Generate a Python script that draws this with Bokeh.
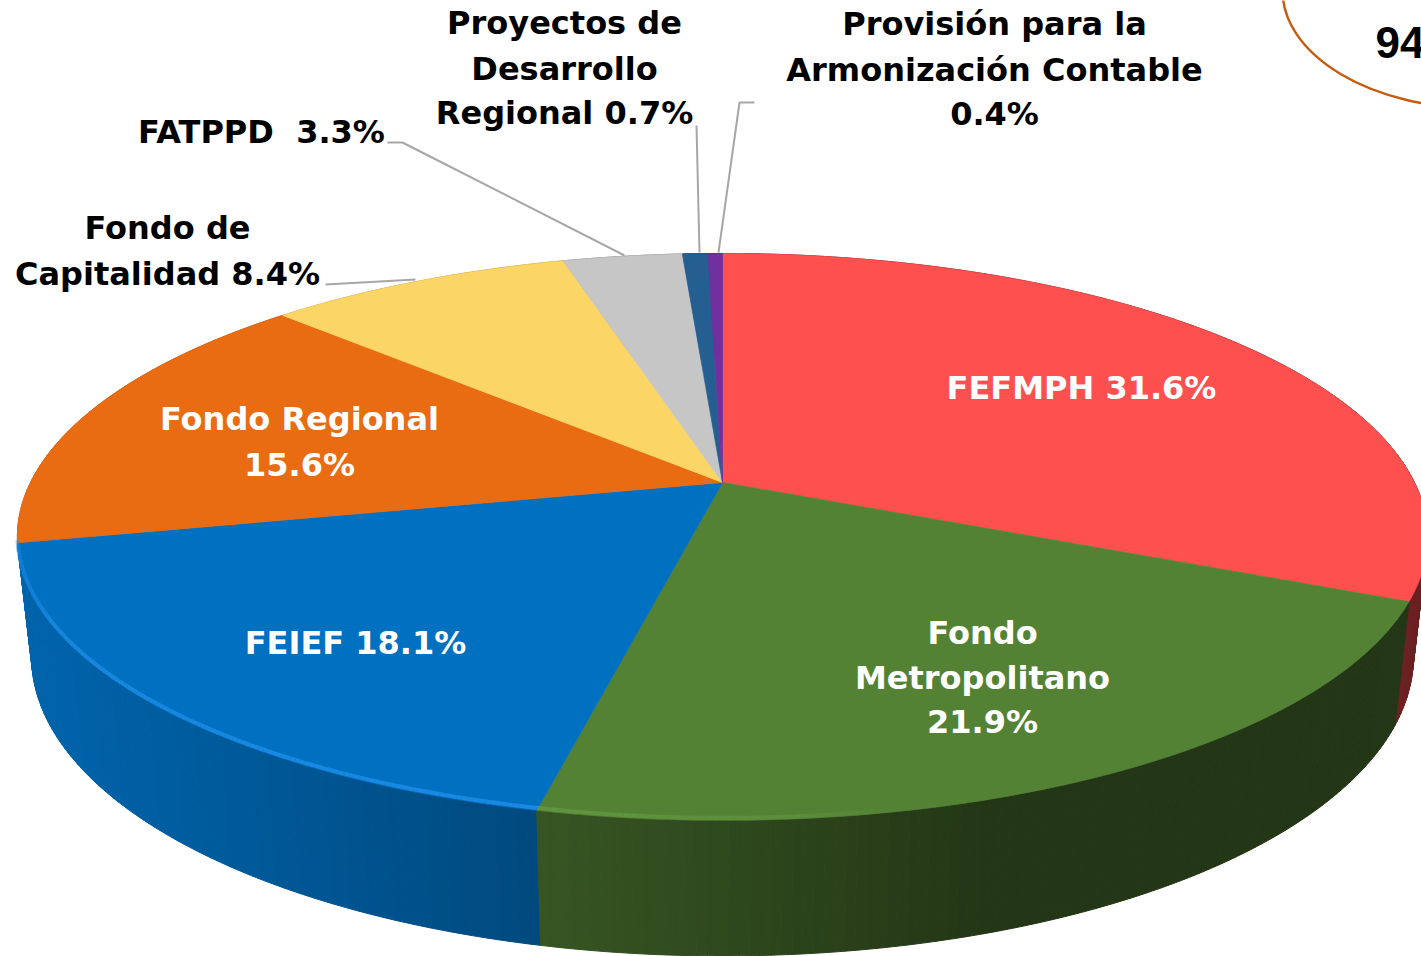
import numpy as np
from bokeh.plotting import figure
from bokeh.models import Range1d
from bokeh.core.properties import value
from bokeh.embed import file_html
from bokeh.resources import INLINE

# ---- data (clockwise from 12 o'clock)
names = ["FEFMPH", "Fondo Metropolitano", "FEIEF", "Fondo Regional",
         "Fondo de Capitalidad", "FATPPD", "Proyectos de Desarrollo Regional",
         "Provisión para la Armonización Contable"]
shares = [31.6, 21.9, 18.1, 15.6, 8.4, 3.3, 0.7, 0.4]
colors = ["#FF5050", "#548235", "#0070C0", "#E96B12", "#FBD666", "#C6C6C6", "#255E91", "#7030A0"]
rim_colors = [None, "#659A42", "#1E8FEA", None, None, None, None, None]
callout_number = "94"

# ---- perspective of the disc
CX, CY, RX, RY, K = 722.0, 482.0, 692.0, 273.0, 0.192
LOW_CY, LOW_RX, LOW_RY = 599.0, 678.0, 288.0


def top(a):
    u, v = np.sin(a), np.cos(a)
    d = 1 + K * v
    return CX + RX * u / d, CY - RY * v / d


def low(a):
    u, v = np.sin(a), np.cos(a)
    d = 1 + K * v
    return CX + LOW_RX * u / d, LOW_CY - LOW_RY * v / d


def hex2rgb(h):
    return np.array([int(h[i:i + 2], 16) for i in (1, 3, 5)], dtype=float)


def shade(h, f):
    c = np.clip(hex2rgb(h) * f, 0, 255).astype(int)
    return "#%02x%02x%02x" % tuple(c)


p = figure(width=1421, height=956, output_backend="svg", toolbar_location=None,
           x_range=Range1d(0, 1421), y_range=Range1d(956, 0),
           min_border=0, outline_line_color=None)
p.axis.visible = False
p.grid.visible = False
p.background_fill_color = "white"

edges = np.cumsum([0.0] + shares) / sum(shares) * 2 * np.pi

# side wall
strips = []
for i, col in enumerate(colors):
    n = max(2, int(shares[i] * 5))
    a = np.linspace(edges[i], edges[i + 1], n + 1)
    for a0, a1 in zip(a[:-1], a[1:]):
        x0, y0 = top(a0); x1, y1 = top(a1)
        x2, y2 = low(a1); x3, y3 = low(a0)
        mx = (x0 + x1 + x2 + x3) / 4
        f = np.interp(mx, [20, 200, 540, 840, 1000, 1400], [0.90, 0.82, 0.66, 0.50, 0.42, 0.42])
        if i == 0:
            f = 0.42
        strips.append((np.cos((a0 + a1) / 2), [x0, x1, x2, x3], [y0, y1, y2, y3], shade(col, f)))
strips.sort(key=lambda s: -s[0])
sc = [s[3] for s in strips]
p.patches([s[1] for s in strips], [s[2] for s in strips], fill_color=sc, line_color=sc, line_width=1)

# top faces
xs, ys = [], []
for i in range(len(shares)):
    n = max(3, int(shares[i] * 6))
    a = np.linspace(edges[i], edges[i + 1], n + 1)
    ex, ey = top(a)
    xs.append(np.r_[CX, ex].tolist())
    ys.append(np.r_[CY, ey].tolist())
p.patches(xs, ys, fill_color=colors, line_color=colors, line_width=0.7)

# highlighted rim: soft, fading on the green slice
for i, rc in enumerate(rim_colors):
    if rc is None:
        continue
    a = np.linspace(edges[i], edges[i + 1], 160)
    ex, ey = top(a)
    sx = [[ex[j], ex[j + 1]] for j in range(len(a) - 1)]
    sy = [[ey[j] - 2.5, ey[j + 1] - 2.5] for j in range(len(a) - 1)]
    if i == 1:
        al = [float(np.interp(s[0], [540, 800, 900], [0.8, 0.5, 0.0])) for s in sx]
    else:
        al = [float(np.interp(s[0], [17, 60, 540], [0.5, 0.75, 0.85])) for s in sx]
    p.multi_line(sx, sy, line_color=rc, line_width=4, line_alpha=al)

# leader lines
grey = "#A6A6A6"
for lx, ly in [([387, 402, 624], [142, 142, 255]),
               ([325, 415], [284, 279]),
               ([696, 699], [125, 252]),
               ([754, 739, 718], [102, 102, 252])]:
    p.line(lx, ly, line_color=grey, line_width=2)

# callout
p.ellipse([1480], [-10], width=396, height=236, fill_color=None,
          line_color="#C55A11", line_width=2.4)

font = value("DejaVu Sans")


def pct(i):
    return f"{shares[i]}%"


lines = [
    (f"{names[0]} {pct(0)}", 1081, 387, "white"),
    ("Fondo", 982, 632, "white"),
    ("Metropolitano", 982, 677, "white"),
    (pct(1), 982, 721, "white"),
    (f"{names[2]} {pct(2)}", 355, 642, "white"),
    ("Fondo Regional", 299, 418, "white"),
    (pct(3), 299, 464, "white"),
    ("Fondo de", 167, 227, "black"),
    (f"Capitalidad {pct(4)}", 167, 273, "black"),
    (f"{names[5]} \u00a0{pct(5)}", 261, 131, "black"),
    ("Proyectos de", 564, 22, "black"),
    ("Desarrollo", 564, 68, "black"),
    (f"Regional {pct(6)}", 564, 112, "black"),
    ("Provisión para la", 994, 23, "black"),
    ("Armonización Contable", 994, 69, "black"),
    (pct(7), 994, 113, "black"),
]
p.text([l[1] for l in lines], [l[2] for l in lines], text=[l[0] for l in lines],
       text_color=[l[3] for l in lines], text_font=font, text_font_style="bold",
       text_font_size="32px", text_align="center", text_baseline="middle")
p.text([1375], [42], text=[callout_number], text_color="black", text_font=value("Liberation Sans"),
       text_font_style="bold", text_font_size="44px", text_align="left", text_baseline="middle")

open("out.html", "w").write(file_html(p, INLINE))
